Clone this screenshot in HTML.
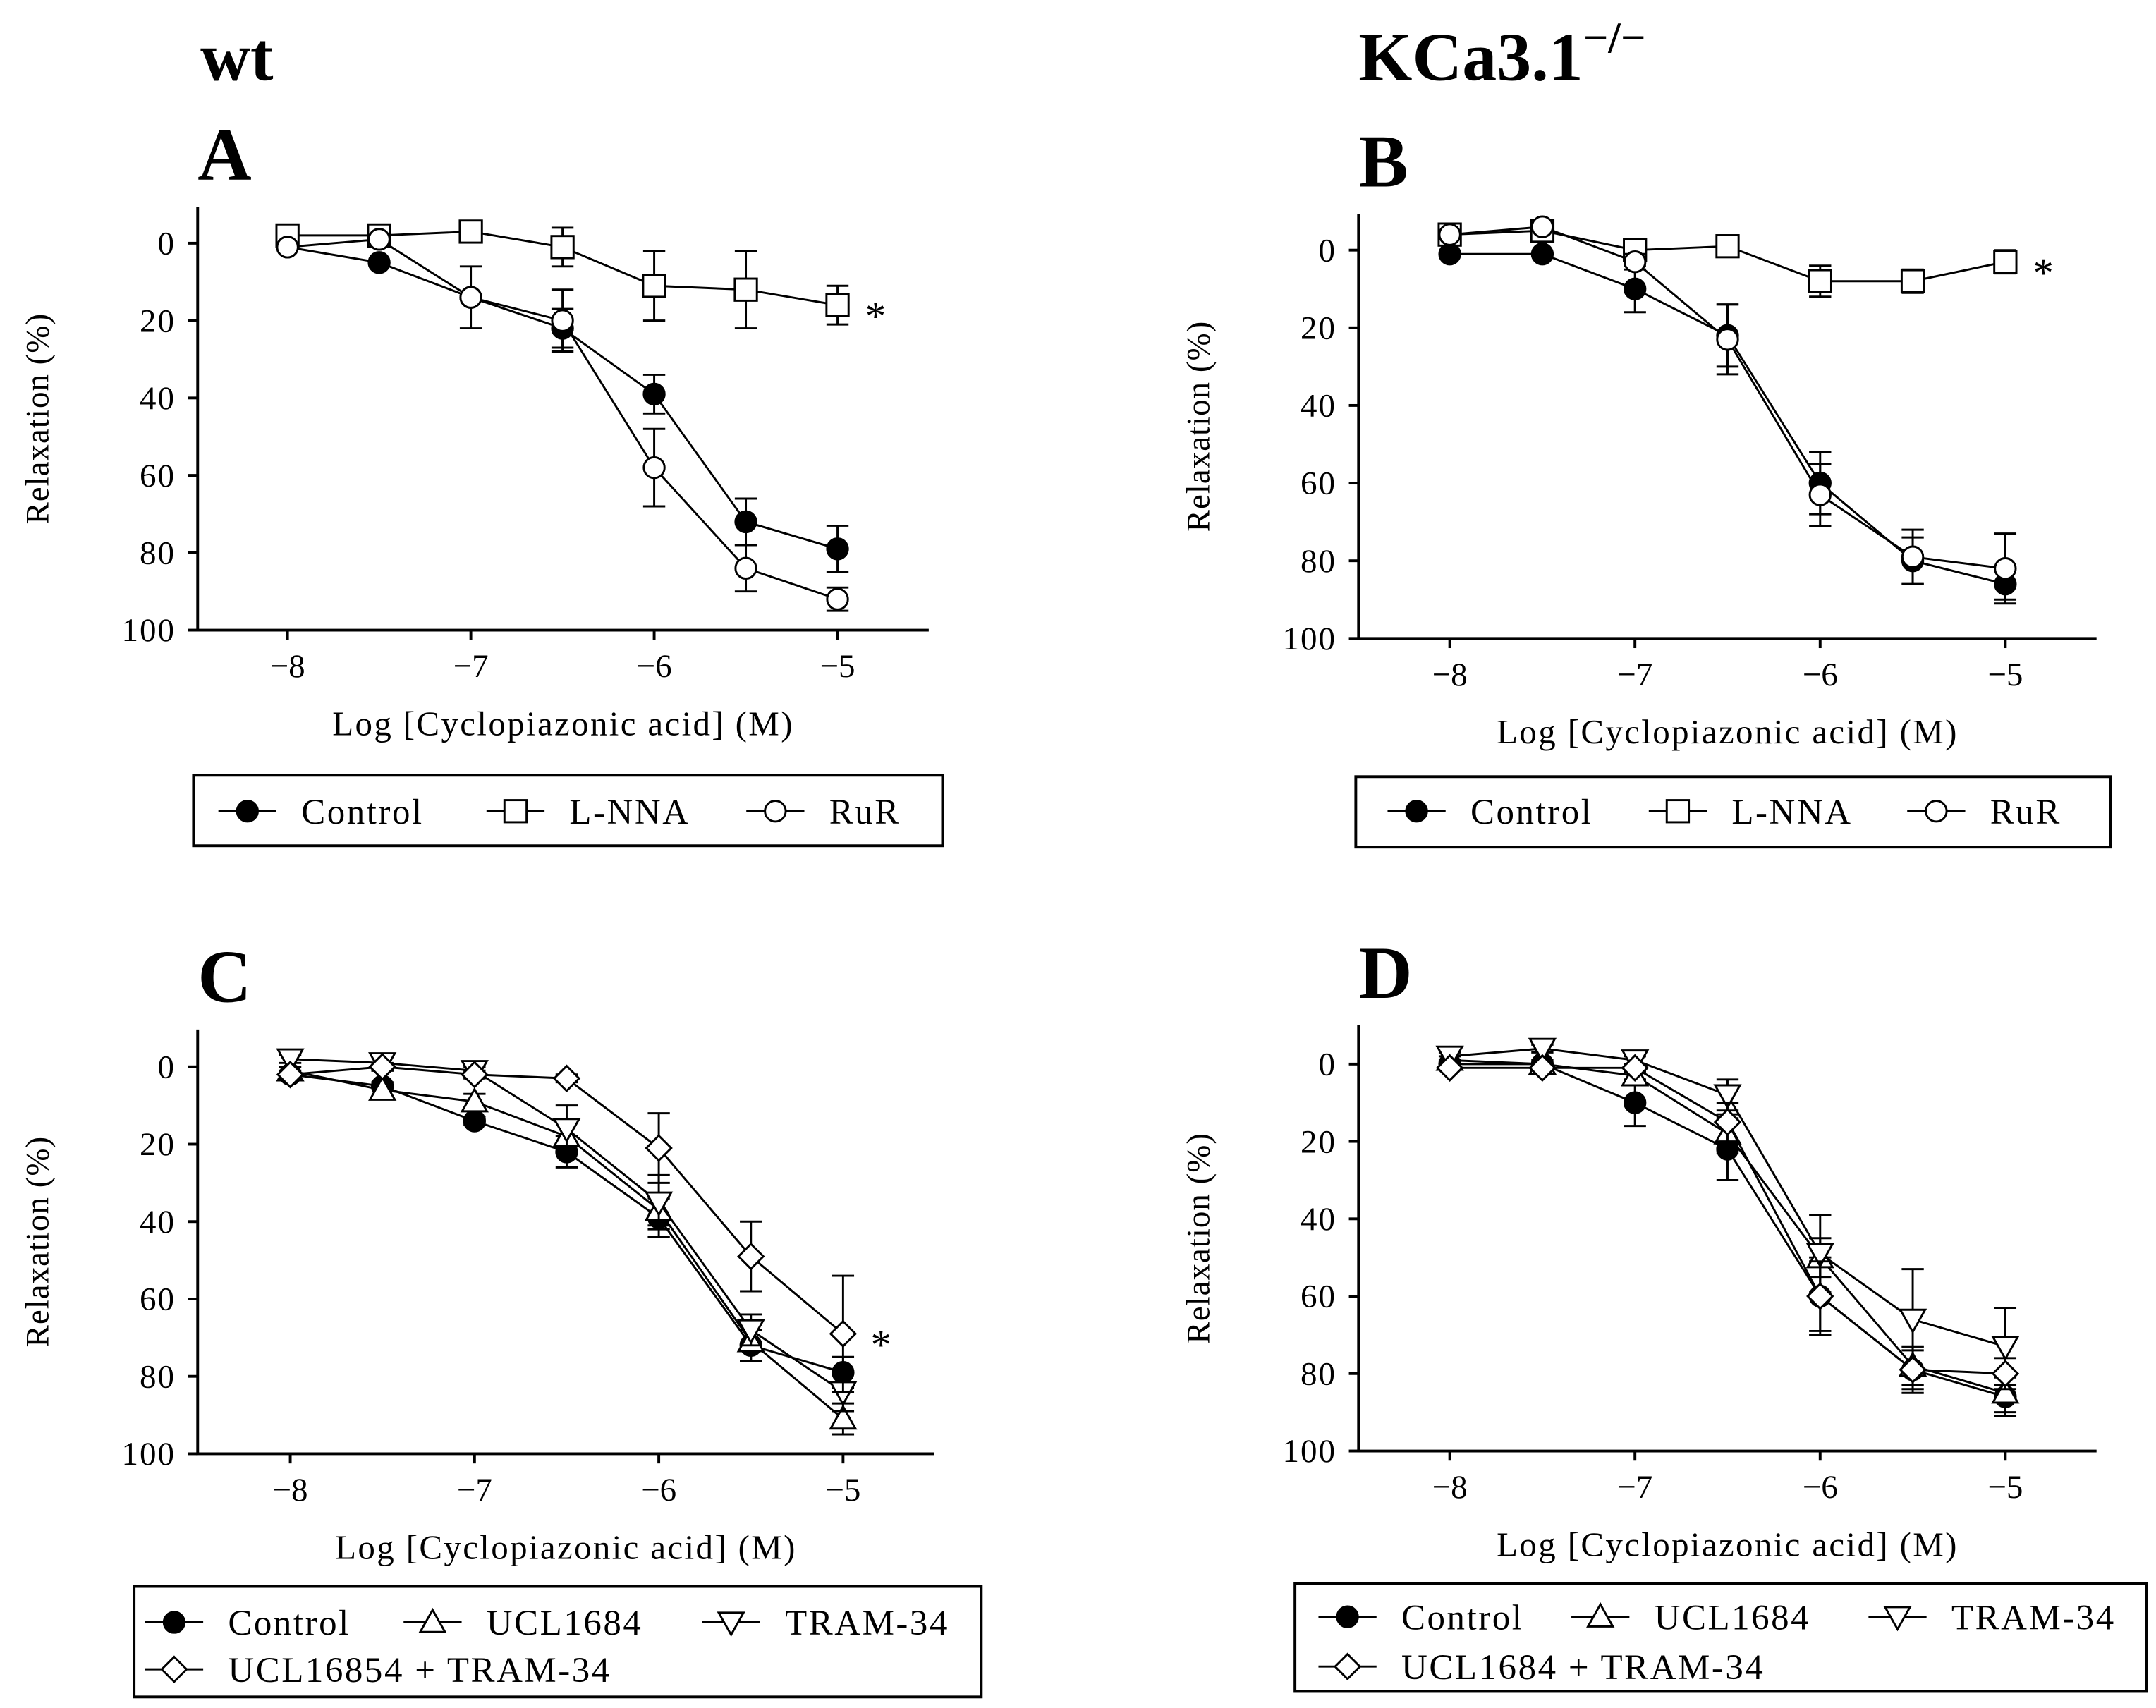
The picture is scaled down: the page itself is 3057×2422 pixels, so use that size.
<!DOCTYPE html>
<html><head><meta charset="utf-8"><style>
html,body{margin:0;padding:0;background:#fff;}
svg{display:block;font-family:"Liberation Serif",serif;}
</style></head><body>
<svg id="fig" width="3057" height="2422" viewBox="0 0 1560 1236" xmlns="http://www.w3.org/2000/svg">
<text x="145" y="58" font-size="50" font-weight="bold">wt</text>
<text x="983" y="58" font-size="50" font-weight="bold">KCa3.1<tspan font-size="32" dy="-20">−/−</tspan></text>
</svg>
<script>
const xLogs=[-8,-7.5,-7,-6.5,-6,-5.5,-5];
const xTicks=[-8,-7,-6,-5];
const yTicks=[0,20,40,60,80,100];
// Panel A
const aControl=[1,5,14,22,39,72,79], aControlErr=[0,0,0,5,5,6,6];
const aLNNA=[-2,-2,-3,1,11,12,16], aLNNAErr=[0,0,0,5,9,10,5];
const aRuR=[1,-1,14,20,58,84,92], aRuRErr=[0,0,8,8,10,6,3];
// Panel B
const bControl=[1,1,10,22,60,80,86], bControlErr=[0,0,6,8,8,6,4];
const bLNNA=[-4,-5,0,-1,8,8,3], bLNNAErr=[1,1,1,0,4,3,3];
const bRuR=[-4,-6,3,23,63,79,82], bRuRErr=[1,1,2,9,8,7,9];
// Panel C
const cControl=[2,5,14,22,39,72,79], cControlErr=[0,0,1,4,5,4,4];
const cUCL=[1,6,9,18,37,71,91], cUCLErr=[1,2,2,4,4,5,4];
const cTRAM=[-2,-1,1,16,35,68,84], cTRAMErr=[1,2,1,6,7,4,5];
const cBoth=[2,0,2,3,21,49,69], cBothErr=[1,1,1,1,9,9,15];
// Panel D
const dControl=[0,0,10,22,60,79,86], dControlErr=[0,0,6,8,10,6,5];
const dUCL=[-1,0,3,18,50,78,85], dUCLErr=[1,1,1,5,5,5,5];
const dTRAM=[-2,-4,-1,8,49,66,73], dTRAMErr=[1,1,1,4,10,13,10];
const dBoth=[1,1,1,15,60,79,80], dBothErr=[0,0,1,5,9,5,4];

const NS="http://www.w3.org/2000/svg";
const svg=document.getElementById('fig');
function el(tag,attrs,parent,text){const e=document.createElementNS(NS,tag);for(const k in attrs)e.setAttribute(k,attrs[k]);if(text!==undefined)e.textContent=text;(parent||svg).appendChild(e);return e;}

function marker(g,type,cx,cy){
  const r=7.5;let m;
  if(type==='filled') m=el('circle',{cx:cx,cy:cy,r:r,fill:'#000',stroke:'#000','stroke-width':1.5},g);
  else if(type==='circle') m=el('circle',{cx:cx,cy:cy,r:r,fill:'#fff',stroke:'#000','stroke-width':1.5},g);
  else if(type==='square') m=el('rect',{x:cx-8,y:cy-8,width:16,height:16,fill:'#fff',stroke:'#000','stroke-width':1.5},g);
  else if(type==='up') m=el('polygon',{points:`${cx},${cy-9} ${cx-9},${cy+7} ${cx+9},${cy+7}`,fill:'#fff',stroke:'#000','stroke-width':1.5},g);
  else if(type==='down') m=el('polygon',{points:`${cx},${cy+9} ${cx-9},${cy-7} ${cx+9},${cy-7}`,fill:'#fff',stroke:'#000','stroke-width':1.5},g);
  else if(type==='diamond') m=el('polygon',{points:`${cx},${cy-9} ${cx+9},${cy} ${cx},${cy+9} ${cx-9},${cy}`,fill:'#fff',stroke:'#000','stroke-width':1.5},g);
  return m;
}

function panel(p){
  const g=el('g',{});
  
  
  const X=v=>p.x8+(v+8)*(p.x5-p.x8)/3;
  const Y=v=>p.y0+v*(p.y100-p.y0)/100;
  el('text',{x:p.ax,y:p.top-20,'font-size':54,'font-weight':'bold'},g,p.id);
  const axes=el('path',{d:`M${p.ax},${p.top} V${p.y100} H${p.axEnd}`,fill:'none',stroke:'#000','stroke-width':2},g);
  
  
  yTicks.forEach(t=>{
    el('line',{x1:p.ax-7,x2:p.ax,y1:Y(t),y2:Y(t),stroke:'#000','stroke-width':2},g);
    const tl=el('text',{x:p.ax-16,y:Y(t)+8,'font-size':24,'text-anchor':'end','letter-spacing':1},g,String(t));
    
    
  });
  xTicks.forEach(t=>{
    el('line',{x1:X(t),x2:X(t),y1:p.y100,y2:p.y100+7,stroke:'#000','stroke-width':2},g);
    const tl=el('text',{x:X(t),y:p.y100+34,'font-size':24,'text-anchor':'middle'},g,'−'+Math.abs(t));
    
    
  });
  const xl=el('text',{x:(p.ax+p.axEnd)/2,y:p.y100+76,'font-size':25,'text-anchor':'middle','letter-spacing':1.2},g,'Log [Cyclopiazonic acid] (M)');
  
  
  const yc=(p.top+p.y100)/2;
  const yl=el('text',{x:p.ax-108,y:yc,'font-size':24,'text-anchor':'middle','letter-spacing':0.5,transform:`rotate(-90 ${p.ax-108} ${yc})`},g,'Relaxation (%)');
  
  
  p.series.forEach(s=>{
    const sg=el('g',{},g);
    
    
    el('polyline',{points:s.v.map((v,i)=>X(xLogs[i])+','+Y(v)).join(' '),fill:'none',stroke:'#000','stroke-width':1.5},sg);
    s.v.forEach((v,i)=>{
      const e=s.e[i];if(e>0){
        const cx=X(xLogs[i]);
        const ya=Y(v-e),yb=Y(v+e);
        el('path',{d:`M${cx},${ya} V${yb} M${cx-8},${ya} H${cx+8} M${cx-8},${yb} H${cx+8}`,stroke:'#000','stroke-width':1.5,fill:'none'},sg);
      }
    });
    s.v.forEach((v,i)=>{const m=marker(sg,s.type,X(xLogs[i]),Y(v));});
  });
  if(p.star!==undefined){const st=el('text',{x:X(-5)+20,y:Y(p.star)+18,'font-size':30},g,'*');}
  const L=p.legend;
  const lg=el('g',{},g);
  
  
  el('rect',{x:L.x,y:L.y,width:L.w,height:L.h,fill:'#fff',stroke:'#000','stroke-width':2},lg);
  L.items.forEach(it=>{
    const eg=el('g',{},lg);
    
    
    el('line',{x1:it.x,x2:it.x+42,y1:it.y,y2:it.y,stroke:'#000','stroke-width':1.5},eg);
    marker(eg,it.type,it.x+21,it.y);
    el('text',{x:it.x+60,y:it.y+9,'font-size':26,'letter-spacing':1.3},eg,it.label);
  });
}

panel({id:'A',ax:143,axEnd:672,top:150,y0:176,y100:456,x8:208,x5:606,star:16,
 series:[{name:'Control',type:'filled',v:aControl,e:aControlErr},{name:'L-NNA',type:'square',v:aLNNA,e:aLNNAErr},{name:'RuR',type:'circle',v:aRuR,e:aRuRErr}],
 legend:{x:140,y:561,w:542,h:51,items:[{x:158,y:587,type:'filled',label:'Control'},{x:352,y:587,type:'square',label:'L-NNA'},{x:540,y:587,type:'circle',label:'RuR'}]}});
panel({id:'B',ax:983,axEnd:1517,top:155,y0:181,y100:462,x8:1049,x5:1451,star:3,
 series:[{name:'Control',type:'filled',v:bControl,e:bControlErr},{name:'L-NNA',type:'square',v:bLNNA,e:bLNNAErr},{name:'RuR',type:'circle',v:bRuR,e:bRuRErr}],
 legend:{x:981,y:562,w:546,h:51,items:[{x:1004,y:587,type:'filled',label:'Control'},{x:1193,y:587,type:'square',label:'L-NNA'},{x:1380,y:587,type:'circle',label:'RuR'}]}});
panel({id:'C',ax:143,axEnd:676,top:745,y0:772,y100:1052,x8:210,x5:610,star:69,
 series:[{name:'Control',type:'filled',v:cControl,e:cControlErr},{name:'UCL1684',type:'up',v:cUCL,e:cUCLErr},{name:'TRAM-34',type:'down',v:cTRAM,e:cTRAMErr},{name:'UCL-TRAM',type:'diamond',v:cBoth,e:cBothErr}],
 legend:{x:97,y:1148,w:613,h:80,items:[{x:105,y:1174,type:'filled',label:'Control'},{x:292,y:1174,type:'up',label:'UCL1684'},{x:508,y:1174,type:'down',label:'TRAM-34'},{x:105,y:1208,type:'diamond',label:'UCL16854 + TRAM-34'}]}});
panel({id:'D',ax:983,axEnd:1517,top:742,y0:770,y100:1050,x8:1049,x5:1451,
 series:[{name:'Control',type:'filled',v:dControl,e:dControlErr},{name:'UCL1684',type:'up',v:dUCL,e:dUCLErr},{name:'TRAM-34',type:'down',v:dTRAM,e:dTRAMErr},{name:'UCL-TRAM',type:'diamond',v:dBoth,e:dBothErr}],
 legend:{x:937,y:1146,w:616,h:78,items:[{x:954,y:1170,type:'filled',label:'Control'},{x:1137,y:1170,type:'up',label:'UCL1684'},{x:1352,y:1170,type:'down',label:'TRAM-34'},{x:954,y:1206,type:'diamond',label:'UCL1684 + TRAM-34'}]}});
</script>
</body></html>
